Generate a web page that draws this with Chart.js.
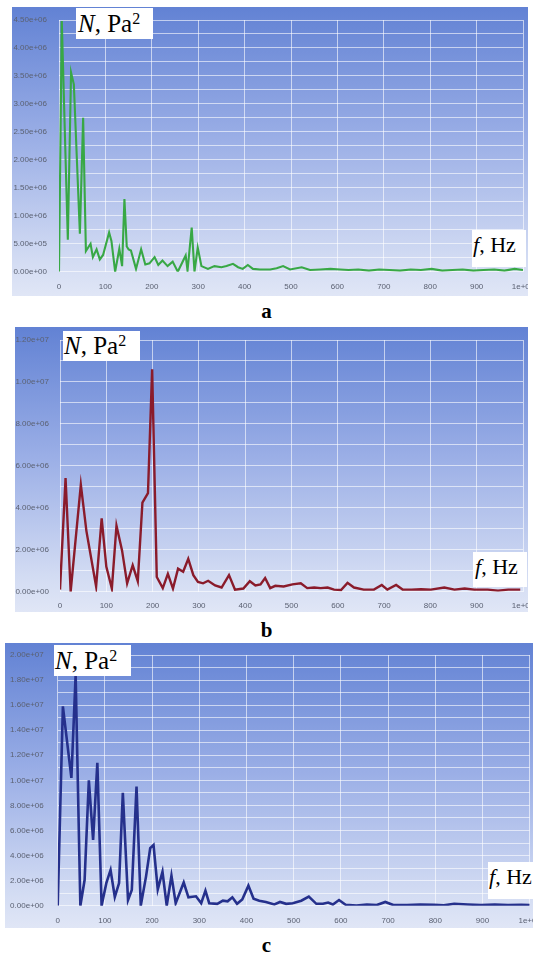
<!DOCTYPE html>
<html>
<head>
<meta charset="utf-8">
<script src="https://cdn.jsdelivr.net/npm/chart.js@4.4.1/dist/chart.umd.min.js"></script>
<style>
  html, body { margin: 0; padding: 0; background: #fff; width: 533px; height: 958px; overflow: hidden; }
  body { position: relative; font-family: 'Liberation Serif', 'Times New Roman', serif; }
  canvas { position: absolute; }
  .tag { position: absolute; background: #fff; color: #000; white-space: nowrap; box-sizing: border-box; }
  .tag i { font-style: italic; }
  .tag .sup { font-size: 16px; vertical-align: 8px; line-height: 0; }
  .cap { position: absolute; left: 0; width: 533px; text-align: center; font-weight: bold; font-size: 21px; line-height: 24px; }
</style>
</head>
<body>
<canvas id="chartA" width="516" height="289" style="left:12px;top:7px"></canvas>
<canvas id="chartB" width="513" height="285" style="left:15px;top:327px"></canvas>
<canvas id="chartC" width="540" height="285" style="left:5px;top:643px"></canvas>

<div class="tag" style="left:76px;top:8px;width:77px;height:31px;font-size:25px;line-height:31px;padding-left:2px"><i>N</i>, Pa<span class="sup">2</span></div>
<div class="tag" style="left:472px;top:230px;width:54px;height:37px;font-size:22px;line-height:30px;padding-left:1px"><i>f</i>, Hz</div>
<div class="cap" style="top:299px">a</div>

<div class="tag" style="left:63px;top:331px;width:77px;height:30px;font-size:25px;line-height:29px;padding-left:1px"><i>N</i>, Pa<span class="sup">2</span></div>
<div class="tag" style="left:473px;top:552px;width:54px;height:35px;font-size:22px;line-height:29px;padding-left:2px"><i>f</i>, Hz</div>
<div class="cap" style="top:618px">b</div>

<div class="tag" style="left:54px;top:645px;width:77px;height:31px;font-size:25px;line-height:31px;padding-left:1px"><i>N</i>, Pa<span class="sup">2</span></div>
<div class="tag" style="left:488px;top:862px;width:50px;height:37px;font-size:22px;line-height:30px;padding-left:1px"><i>f</i>, Hz</div>
<div class="cap" style="top:933px">c</div>

<script>
// panel a: frequency (Hz) and spectrum value (x1e6 Pa^2)
const freqA = [0, 6, 19, 26, 32, 45, 52, 58, 68, 73, 81, 88, 95, 108, 113, 121, 130, 136, 141, 146,
  150, 155, 166, 177, 186, 195, 206, 214, 223, 234, 245, 256, 273, 277, 286, 292, 299, 307, 321, 335,
  350, 361, 375, 386, 396, 407, 418, 433, 455, 469, 483, 498, 523, 541, 563, 585, 606, 624, 645, 668,
  690, 712, 735, 758, 780, 803, 826, 848, 870, 893, 915, 938, 960, 982, 1000];
const psdA = [0, 4.48, 0.57, 3.56, 3.35, 0.68, 2.75, 0.37, 0.5, 0.26, 0.4, 0.22, 0.3, 0.7, 0.55, 0.0, 0.41, 0.1, 1.3, 0.45,
  0.4, 0.38, 0.05, 0.4, 0.13, 0.15, 0.26, 0.12, 0.2, 0.1, 0.18, 0.0, 0.29, 0.02, 0.79, 0.0, 0.43, 0.1, 0.05, 0.1,
  0.08, 0.1, 0.14, 0.08, 0.05, 0.12, 0.05, 0.04, 0.04, 0.06, 0.1, 0.04, 0.08, 0.03, 0.04, 0.05, 0.04, 0.03, 0.04, 0.02,
  0.04, 0.03, 0.02, 0.04, 0.03, 0.05, 0.02, 0.03, 0.04, 0.02, 0.03, 0.04, 0.02, 0.05, 0.03];

// panel b
const freqB = [0, 12, 23, 45, 57, 78, 90, 100, 112, 122, 134, 145, 157, 168, 178, 190, 199, 209, 222, 233,
  244, 255, 266, 277, 288, 298, 309, 320, 335, 349, 365, 378, 396, 410, 422, 433, 443, 454, 465, 483,
  502, 520, 534, 549, 563, 578, 592, 607, 621, 635, 656, 678, 695, 707, 726, 740, 759, 780, 801, 830,
  852, 874, 895, 924, 946, 968, 994];
const psdB = [0.1, 5.42, 0.0, 5.1, 2.9, 0.25, 3.5, 1.2, 0.15, 3.15, 1.97, 0.4, 1.26, 0.5, 4.25, 4.7, 10.6, 0.7, 0.17, 0.85,
  0.15, 1.1, 0.95, 1.57, 0.79, 0.47, 0.4, 0.52, 0.3, 0.2, 0.79, 0.1, 0.15, 0.5, 0.3, 0.35, 0.65, 0.17, 0.28, 0.25,
  0.35, 0.4, 0.17, 0.2, 0.17, 0.2, 0.1, 0.08, 0.42, 0.2, 0.1, 0.1, 0.32, 0.1, 0.32, 0.1, 0.1, 0.12, 0.1, 0.2,
  0.1, 0.15, 0.1, 0.1, 0.05, 0.1, 0.1];

// panel c
const freqC = [0, 11, 29, 38, 48, 57, 66, 75, 84, 93, 103, 112, 121, 130, 138, 149, 157, 167, 176, 187,
  196, 203, 212, 222, 231, 241, 250, 267, 277, 293, 304, 313, 321, 338, 350, 360, 370, 380, 391, 404,
  415, 427, 441, 459, 471, 484, 498, 516, 532, 548, 562, 573, 583, 596, 610, 633, 655, 676, 694, 711,
  740, 768, 797, 818, 840, 869, 897, 926, 954, 982, 1000];
const psdC = [0, 15.9, 10.2, 18.4, 0, 2.05, 10.0, 5.25, 11.4, 0, 1.8, 2.85, 0.7, 1.8, 9.0, 0.45, 1.25, 9.5, 0, 2.3,
  4.6, 4.85, 1.3, 2.7, 0, 2.4, 0.2, 1.85, 0.67, 0.75, 0.2, 1.2, 0.2, 0.15, 0.4, 0.35, 0.67, 0.15, 0.5, 1.6,
  0.55, 0.4, 0.3, 0.1, 0.3, 0.15, 0.2, 0.4, 0.72, 0.15, 0.15, 0.25, 0.1, 0.45, 0.08, 0.02, 0.1, 0.05, 0.3, 0.05,
  0.05, 0.1, 0.08, 0.03, 0.15, 0.1, 0.05, 0.1, 0.05, 0.08, 0.06];

const gridColor = 'rgba(255, 255, 255, 0.6)';
const tickColor = '#5b6172';
const tickFont = { family: "'Liberation Sans Narrow', 'Liberation Sans', sans-serif", size: 8 };

function sciLabel(v) {
  return v.toExponential(2).replace(/e([+-])(\d)$/, (m, s, d) => 'e' + s + '0' + d);
}

const panelBackground = {
  id: 'panelBackground',
  beforeDraw(chart) {
    const { ctx, width, height } = chart;
    const g = ctx.createLinearGradient(0, 0, 0, height);
    g.addColorStop(0, '#6282d4');
    g.addColorStop(0.45, '#9aaee6');
    g.addColorStop(0.88, '#d3dcf3');
    g.addColorStop(1, '#e0e6f6');
    ctx.save();
    ctx.fillStyle = g;
    ctx.fillRect(0, 0, width, height);
    ctx.restore();
  }
};

function drawSpectrum(id, freqs, values, color, width, yMax, yStep, box) {
  const points = freqs.map((f, i) => ({ x: f, y: values[i] * 1e6 }));
  return new Chart(document.getElementById(id), {
    type: 'line',
    data: {
      datasets: [{
        data: points,
        borderColor: color,
        borderWidth: width,
        pointRadius: 0,
        tension: 0,
        fill: false,
      }],
    },
    options: {
      responsive: false,
      animation: false,
      layout: { padding: { top: box.top, right: box.right, left: 0, bottom: 0 } },
      plugins: { legend: { display: false }, tooltip: { enabled: false } },
      scales: {
        x: {
          type: 'linear',
          min: 0,
          max: 1000,
          border: { display: false },
          grid: { color: gridColor, drawTicks: false },
          ticks: {
            stepSize: 100,
            padding: box.xPad,
            color: tickColor,
            font: tickFont,
            maxRotation: 0,
            autoSkip: false,
            callback: (v) => (v === 1000 ? '1e+03' : String(v)),
          },
          afterFit(s) { s.height = box.bottom; s.paddingLeft = 0; s.paddingRight = 0; },
        },
        y: {
          min: 0,
          max: yMax,
          border: { display: false },
          grid: { color: gridColor, drawTicks: false },
          ticks: {
            stepSize: yStep,
            padding: box.yPad,
            color: tickColor,
            font: tickFont,
            autoSkip: false,
            // labels on every other grid line
            callback: (v) => (Math.round(v / yStep) % 2 === 0 ? sciLabel(v) : ''),
          },
          afterFit(s) { s.width = box.left; s.paddingTop = 0; s.paddingBottom = 0; },
        },
      },
    },
    plugins: [panelBackground],
  });
}

drawSpectrum('chartA', freqA, psdA, '#38a845', 2.1, 4.5e6, 0.25e6,
  { left: 47, right: 5, top: 13, bottom: 24.3, xPad: 10, yPad: 12 });
drawSpectrum('chartB', freqB, psdB, '#8a1b2b', 2.4, 12e6, 1e6,
  { left: 45, right: 5, top: 13, bottom: 20.3, xPad: 9, yPad: 11 });
drawSpectrum('chartC', freqC, psdC, '#25308c', 2.6, 20e6, 1e6,
  { left: 52.7, right: 15.3, top: 12, bottom: 22.3, xPad: 10, yPad: 14 });
</script>
</body>
</html>
